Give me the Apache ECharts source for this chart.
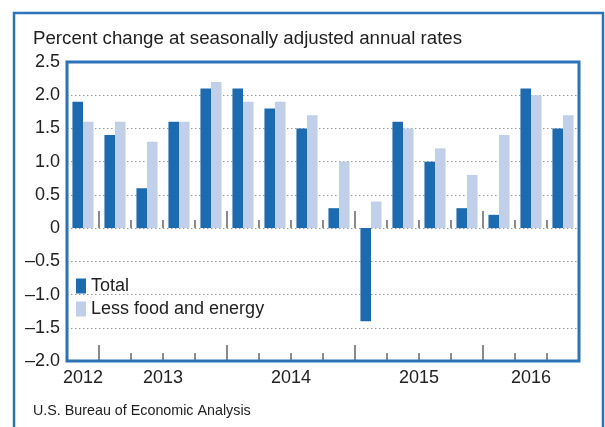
<!DOCTYPE html>
<html>
<head>
<meta charset="utf-8">
<script src="https://cdn.jsdelivr.net/npm/echarts@6/dist/echarts.min.js"></script>
<style>
  html, body { margin: 0; padding: 0; background: #fff; }
  #chart { width: 605px; height: 427px; }
</style>
</head>
<body>
<div id="chart"></div>
<script>
// ---- data ----
var quarters = ['2012 Q4',
  '2013 Q1', '2013 Q2', '2013 Q3', '2013 Q4',
  '2014 Q1', '2014 Q2', '2014 Q3', '2014 Q4',
  '2015 Q1', '2015 Q2', '2015 Q3', '2015 Q4',
  '2016 Q1', '2016 Q2', '2016 Q3'];
var total =          [1.9, 1.4, 0.6, 1.6, 2.1, 2.1, 1.8, 1.5, 0.3, -1.4, 1.6, 1.0, 0.3, 0.2, 2.1, 1.5];
var lessFoodEnergy = [1.6, 1.6, 1.3, 1.6, 2.2, 1.9, 1.9, 1.7, 1.0,  0.4, 1.5, 1.2, 0.8, 1.4, 2.0, 1.7];
var yMin = -2.0, yMax = 2.5, yStep = 0.5;

// ---- derived: year label positions (centre of each year's quarters) ----
var yearPos = {};
quarters.forEach(function (q, i) {
  var y = q.slice(0, 4);
  if (!yearPos[y]) yearPos[y] = { first: i, last: i };
  yearPos[y].last = i;
});
var years = Object.keys(yearPos);
function yearAt(v) {
  for (var k = 0; k < years.length; k++) {
    var p = yearPos[years[k]];
    if (Math.abs((p.first + p.last + 1) / 2 - v) < 1e-6) return years[k];
  }
  return '';
}
function isYearStart(i) {
  return i > 0 && i < quarters.length && quarters[i].slice(5) === 'Q1';
}

var FONT = '"Liberation Sans", Arial, Helvetica, sans-serif';
var BLUE_FRAME = '#2b72b7';
var TICK = '#666';

var chart = echarts.init(document.getElementById('chart'), null, { renderer: 'canvas' });

function tickAxis(onZero, length, filter) {
  return {
    type: 'category',
    data: quarters,
    boundaryGap: true,
    position: 'bottom',
    axisLine: { show: false, onZero: onZero, onZeroAxisIndex: 0 },
    axisTick: {
      show: true, inside: true, length: length,
      interval: function (i) { return filter(i); },
      lineStyle: { color: TICK, width: 1.5 }
    },
    axisLabel: { show: false },
    splitLine: { show: false }
  };
}

var option = {
  animation: false,
  textStyle: { fontFamily: FONT },
  title: [
    {
      text: 'Percent change at seasonally adjusted annual rates',
      left: 33, top: 29, padding: 0,
      textStyle: { fontFamily: FONT, fontSize: 18.7, fontWeight: 'normal', color: '#222' }
    },
    {
      text: 'U.S. Bureau of Economic Analysis',
      left: 33, top: 404, padding: 0,
      textStyle: { fontFamily: FONT, fontSize: 14.3, fontWeight: 'normal', color: '#222' }
    }
  ],
  legend: {
    orient: 'vertical',
    left: 76, top: 277, padding: 0,
    itemWidth: 10, itemHeight: 15, itemGap: 5,
    icon: 'rect',
    textStyle: { fontFamily: FONT, fontSize: 18, color: '#222' },
    data: ['Total', 'Less food and energy']
  },
  grid: { left: 67, right: 26, top: 62, bottom: 66, containLabel: false },
  xAxis: [
    tickAxis(true, 8, function (i) { return i > 0 && i < quarters.length; }),
    tickAxis(true, 17, isYearStart),
    tickAxis(false, 8, function (i) { return i > 0 && i < quarters.length; }),
    tickAxis(false, 16, isYearStart),
    {
      type: 'value',
      min: 0, max: quarters.length, interval: 0.5,
      position: 'bottom',
      axisLine: { show: false, onZero: false },
      axisTick: { show: false },
      splitLine: { show: false },
      axisLabel: {
        show: true, margin: 8, fontSize: 18, color: '#222', fontFamily: FONT,
        formatter: function (v) { return yearAt(v); }
      }
    }
  ],
  yAxis: {
    type: 'value',
    min: yMin, max: yMax, interval: yStep,
    axisLine: { show: false },
    axisTick: { show: false },
    axisLabel: {
      fontSize: 18, color: '#222', margin: 7, fontFamily: FONT,
      formatter: function (v) {
        if (Math.abs(v) < 1e-9) return '0';
        var s = Math.abs(v).toFixed(1);
        return v < 0 ? '\u2013' + s : s;
      }
    },
    splitLine: { show: true, lineStyle: { color: '#999', type: [1.5, 2.5], width: 1 } }
  },
  series: [
    {
      name: 'Total', type: 'bar', data: total,
      barGap: '0%', barCategoryGap: '34%',
      itemStyle: { color: '#1e6aae' }
    },
    {
      name: 'Less food and energy', type: 'bar', data: lessFoodEnergy,
      barGap: '0%', barCategoryGap: '34%',
      itemStyle: { color: '#c2cfe9' }
    }
  ],
  graphic: [
    {
      type: 'rect', z: 100, silent: true,
      shape: { x: 14, y: 13, width: 589, height: 440 },
      style: { fill: null, stroke: BLUE_FRAME, lineWidth: 2.5 }
    },
    {
      type: 'rect', z: 100, silent: true,
      shape: { x: 67, y: 62, width: 512, height: 299 },
      style: { fill: null, stroke: BLUE_FRAME, lineWidth: 3 }
    }
  ]
};

chart.setOption(option);
</script>
</body>
</html>
